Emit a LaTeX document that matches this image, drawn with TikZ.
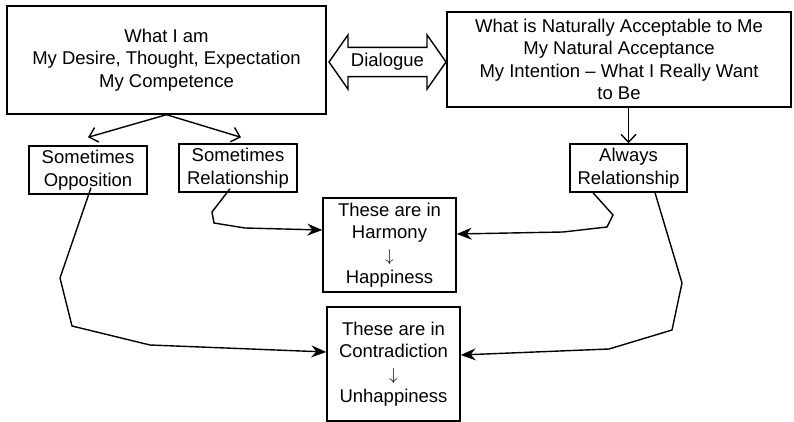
\documentclass[tikz,border=0pt]{standalone}
\usepackage{fontspec}
\setmainfont{Liberation Sans}
\usetikzlibrary{arrows.meta,shapes.arrows}

\tikzstyle{box} = [draw, line width=1.4pt, align=center, inner sep=0pt, font=\fontsize{18.5}{22.5}\selectfont]
\tikzstyle{link} = [line width=1.4pt, -{Stealth[length=15pt,width=12pt,inset=5pt]}]
\tikzstyle{fork} = [line width=1.4pt, -{Straight Barb[length=8pt,width=15pt]}]

\begin{document}
\begin{tikzpicture}[x=1pt,y=-1pt]
      \useasboundingbox (0,0) rectangle (794,422);
      \node[box, minimum width=319pt, minimum height=108pt] (whatiam) at (166.5,60) {What I am\\My Desire, Thought, Expectation\\My Competence};
      \node[box, minimum width=344pt, minimum height=95pt] (natural) at (619,59.5) {What is Naturally Acceptable to Me\\My Natural Acceptance\\My Intention -- What I Really Want\\to Be};
      \node[double arrow, draw, line width=1.4pt, double arrow tip angle=110, double arrow head extend=12.5pt,
            minimum height=117pt, inner xsep=0pt, inner ysep=5.3pt, font=\fontsize{18.5}{22.5}\selectfont] (dialogue) at (387.5,62) {Dialogue};
      \node[box, minimum width=118pt, minimum height=48pt] (opposition) at (88,170) {Sometimes\\Opposition};
      \node[box, minimum width=118pt, minimum height=48pt] (somerel) at (238,168) {Sometimes\\Relationship};
      \node[box, minimum width=117pt, minimum height=48pt] (alwaysrel) at (628.5,168) {Always\\Relationship};
      \node[box, minimum width=133pt, minimum height=94pt] (harmony) at (389.5,245) {These are in\\Harmony\\$\downarrow$\\Happiness};
      \node[box, minimum width=133pt, minimum height=114pt] (contra) at (393.5,364) {These are in\\Contradiction\\$\downarrow$\\Unhappiness};
      \draw[fork] (whatiam.south) -- ([yshift=8pt]opposition.north);
      \draw[fork] (whatiam.south) -- ([xshift=3pt,yshift=6pt]somerel.north);
      \draw[fork] (natural.south -| alwaysrel.north) -- (alwaysrel.north);
      \draw[link] ([xshift=-8pt,yshift=4pt]somerel.south) -- (212,212) -- (214,223) -- (245,228) -- ([yshift=15pt]harmony.west);
      \draw[link] ([xshift=-35.5pt]alwaysrel.south) -- (613,215) -- (607,227) -- (563,232) -- ([yshift=11pt]harmony.east);
      \draw[link] ([xshift=3pt,yshift=7pt]opposition.south) -- (60,278) -- (72,326) -- (150,345) -- ([yshift=12pt]contra.west);
      \draw[link] ([xshift=26.5pt]alwaysrel.south) -- (682,283) -- (672,330) -- (609,349) -- ([yshift=9pt]contra.east);
    \end{tikzpicture}
\end{document}
